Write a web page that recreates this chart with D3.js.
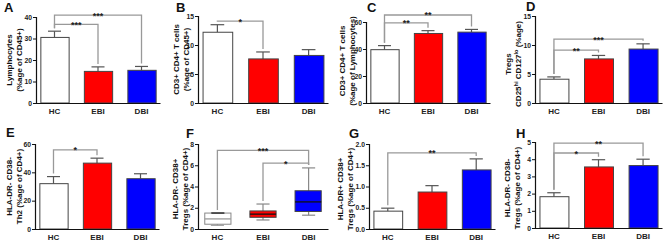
<html>
<head>
<script src="https://d3js.org/d3.v7.min.js"></script>
<style>
  body { margin: 0; background: #fff; }
  text { font-family: "Liberation Sans", Arial, sans-serif; font-weight: bold; }
</style>
</head>
<body>
<svg id="fig" width="669" height="243"></svg>
<script>
// groups and colours
const groups = ["HC", "EBI", "DBI"];
const fills = ["#ffffff", "#ff0000", "#0000ff"];

// bar panels: mean and upper error
const lymphMean = [30.5, 14.7, 15.2];
const lymphErr  = [33.4, 16.8, 17.0];
const cd4Mean   = [12.2, 7.6, 8.2];
const cd4Err    = [13.5, 8.8, 9.2];
const cd4LyMean = [39.5, 51.5, 52.5];
const cd4LyErr  = [42.5, 53.6, 54.5];
const tregMean  = [4.1, 7.6, 9.3];
const tregErr   = [4.5, 8.2, 10.2];
const th2Mean   = [32, 46.5, 35.5];
const th2Err    = [37, 50, 39];
const dr38Mean  = [0.42, 0.87, 1.39];
const dr38Err   = [0.49, 1.02, 1.65];
const drnegMean = [1.82, 3.55, 3.63];
const drnegErr  = [2.05, 3.97, 4.0];

// box panel F: [min, q1, median, q3, max]
const boxF = [
  [0.35, 0.45, 0.95, 1.5, 1.5],
  [0.85, 1.1, 1.4, 1.7, 2.35],
  [1.3, 1.65, 2.55, 3.6, 5.75]
];

// significance brackets [from, to, height, label]
const sigA = [[0, 1, 36.6, "***"], [0, 2, 40.9, "***"]];
const sigB = [[0, 1, 14.1, "*"]];
const sigC = [[0, 1, 59.3, "**"], [0, 2, 65.2, "**"]];
const sigD = [[0, 1, 9.1, "**"], [0, 2, 11.0, "***"]];
const sigE = [[0, 1, 55.8, "*"]];
const sigF = [[1, 2, 6.2, "*"], [0, 2, 7.4, "***"]];
const sigG = [[0, 2, 1.79, "**"]];
const sigH = [[0, 1, 4.36, "*"], [0, 2, 4.94, "**"]];

// tick values
const ticks40 = [0, 10, 20, 30, 40];
const ticks15 = [0, 5, 10, 15];
const ticks60 = [0, 20, 40, 60];
const ticks8  = [0, 2, 4, 6, 8];
const ticks2  = [0, 0.5, 1.0, 1.5, 2.0];
const ticks5  = [0, 1, 2, 3, 4, 5];

const panels = [
  {letter: "A", lx: 4, ly: 12, x0: 36, x1: 160, top: 17, bot: 103, max: 40, ticks: ticks40,
   mean: lymphMean, err: lymphErr, sig: sigA, lab: ["Lymphocytes", "(%age of CD45+)"], labX: 12},
  {letter: "B", lx: 176, ly: 12, x0: 198, x1: 328, top: 16, bot: 103, max: 15, ticks: ticks15,
   mean: cd4Mean, err: cd4Err, sig: sigB, lab: ["CD3+ CD4+ T cells", "(%age of CD45+)"], labX: 179},
  {letter: "C", lx: 367, ly: 12, x0: 366, x1: 490, top: 22, bot: 103, max: 60, ticks: ticks60,
   mean: cd4LyMean, err: cd4LyErr, sig: sigC, lab: ["CD3+ CD4+ T cells", "(%age of Lymphocytes)"], labX: 345, labY: 61},
  {letter: "D", lx: 526, ly: 11, x0: 535, x1: 662, top: 16, bot: 103, max: 15, ticks: ticks15,
   mean: tregMean, err: tregErr, sig: sigD, lab: ["Tregs", "D"], labX: 511, labY: 64},
  {letter: "E", lx: 6, ly: 137, x0: 35, x1: 159, top: 144, bot: 229, max: 60, ticks: ticks60,
   mean: th2Mean, err: th2Err, sig: sigE, lab: ["HLA-DR- CD38-", "Th2 (%age of CD4+)"], labX: 12},
  {letter: "F", lx: 186, ly: 138, x0: 198, x1: 328, top: 144, bot: 229, max: 8, ticks: ticks8,
   box: boxF, sig: sigF, lab: ["HLA-DR- CD38+", "Tregs (%age of CD4+)"], labX: 178, labY: 189},
  {letter: "G", lx: 349, ly: 138, x0: 369, x1: 495, top: 144, bot: 229, max: 2, ticks: ticks2, fmt: ".1f",
   mean: dr38Mean, err: dr38Err, sig: sigG, lab: ["HLA-DR+ CD38+", "Tregs (%age of CD4+)"], labX: 343, labY: 189},
  {letter: "H", lx: 516, ly: 138, x0: 535, x1: 662, top: 142, bot: 228, max: 5, ticks: ticks5,
   mean: drnegMean, err: drnegErr, sig: sigH, lab: ["HLA-DR- CD38-", "Tregs (%age of CD4+)"], labX: 510, labY: 188}
];

const svg = d3.select("#fig");

panels.forEach(p => {
  const g = svg.append("g");
  const x = d3.scaleBand().domain(groups).range([p.x0, p.x1]).paddingInner(0.35).paddingOuter(0.1);
  const y = d3.scaleLinear().domain([0, p.max]).range([p.bot, p.top]);
  const bw = x.bandwidth();
  const cx = i => x(groups[i]) + bw / 2;

  // panel letter
  g.append("text").attr("x", p.lx).attr("y", p.ly).text(p.letter)
    .style("font-size", "13px").attr("fill", "#111");

  // y label
  const lab = g.append("text")
    .attr("transform", `translate(${p.labX},${p.labY || (p.top + p.bot) / 2}) rotate(-90)`)
    .attr("text-anchor", "middle").style("font-size", "8px").attr("fill", "#111");
  lab.append("tspan").attr("x", 0).attr("dy", 0).text(p.lab[0]);
  if (p.letter === "D") {
    const t2 = lab.append("tspan").attr("x", 0).attr("dy", 9.5);
    t2.append("tspan").text("CD25");
    t2.append("tspan").attr("baseline-shift", "super").style("font-size", "5.5px").text("hi");
    t2.append("tspan").text(" CD127");
    t2.append("tspan").attr("baseline-shift", "super").style("font-size", "5.5px").text("lo");
    t2.append("tspan").text(" (%age)");
  } else {
    lab.append("tspan").attr("x", 0).attr("dy", 9.5).text(p.lab[1]);
  }

  // brackets
  p.sig.forEach(s => {
    const [a, b, v, txt] = s;
    const top = i => p.box ? p.box[i][4] : p.err[i];
    const yb = y(v);
    g.append("path")
      .attr("d", `M${cx(a)},${y(top(a)) - 3}V${yb}H${cx(b)}V${y(top(b)) - 3}`)
      .attr("fill", "none").attr("stroke", "#999").attr("stroke-width", 1.3);
    g.append("text").attr("x", (cx(a) + cx(b)) / 2).attr("y", yb + 3.5)
      .attr("text-anchor", "middle").style("font-size", "9px").attr("fill", "#222").text(txt);
  });

  if (p.box) {
    const bx = d3.scaleBand().domain(groups).range([p.x0, p.x1]).paddingInner(0.42).paddingOuter(0.15);
    p.box.forEach((d, i) => {
      const l = bx(groups[i]), w = bx.bandwidth(), c = cx(i);
      const wc = i === 0 ? "#999" : "#888";
      g.append("line").attr("x1", c).attr("x2", c).attr("y1", y(d[0])).attr("y2", y(d[4]))
        .attr("stroke", wc).attr("stroke-width", 1.2);
      [d[0], d[4]].forEach(v => g.append("line").attr("x1", c - w / 4).attr("x2", c + w / 4)
        .attr("y1", y(v)).attr("y2", y(v)).attr("stroke", wc).attr("stroke-width", 1.2));
      g.append("rect").attr("x", l).attr("width", w).attr("y", y(d[3])).attr("height", y(d[1]) - y(d[3]))
        .attr("fill", fills[i]).attr("stroke", i === 0 ? "#888" : "#444").attr("stroke-width", 1);
      g.append("line").attr("x1", l).attr("x2", l + w).attr("y1", y(d[2])).attr("y2", y(d[2]))
        .attr("stroke", i === 0 ? "#999" : "#111").attr("stroke-width", 1.3);
      if (i === 0) g.append("line").attr("x1", l + w * 0.25).attr("x2", l + w * 0.75)
        .attr("y1", y(d[4])).attr("y2", y(d[4])).attr("stroke", "#333").attr("stroke-width", 1.5);
    });
  } else {
    // error bars
    p.mean.forEach((m, i) => {
      const c = cx(i);
      g.append("line").attr("x1", c).attr("x2", c).attr("y1", y(m)).attr("y2", y(p.err[i]))
        .attr("stroke", "#555").attr("stroke-width", 1.2);
      g.append("line").attr("x1", c - bw * 0.23).attr("x2", c + bw * 0.23)
        .attr("y1", y(p.err[i])).attr("y2", y(p.err[i])).attr("stroke", "#555").attr("stroke-width", 1.2);
    });
    g.selectAll("rect.bar").data(p.mean).join("rect").attr("class", "bar")
      .attr("x", (d, i) => x(groups[i]) + 0.5).attr("width", bw)
      .attr("y", d => y(d)).attr("height", d => p.bot - y(d))
      .attr("fill", (d, i) => fills[i]).attr("stroke", "#444").attr("stroke-width", 1);
  }

  // axes
  const ya = g.append("g").attr("transform", `translate(${p.x0},0)`)
    .call(d3.axisLeft(y).tickValues(p.ticks).tickSize(3).tickPadding(1)
      .tickFormat(p.fmt ? d3.format(p.fmt) : d3.format("d")));
  const xa = g.append("g").attr("transform", `translate(0,${p.bot})`)
    .call(d3.axisBottom(x).tickSize(0).tickPadding(5));
  [ya, xa].forEach(a => {
    a.select(".domain").attr("stroke", "#111").attr("stroke-width", 1.2);
    a.selectAll(".tick line").attr("stroke", "#111");
    a.selectAll("text").style("font-family", "'Liberation Sans', Arial, sans-serif")
      .style("font-weight", "bold").attr("fill", "#222");
  });
  ya.selectAll("text").style("font-size", "6.8px");
  xa.selectAll("text").style("font-size", "8px");
});
</script>
</body>
</html>
